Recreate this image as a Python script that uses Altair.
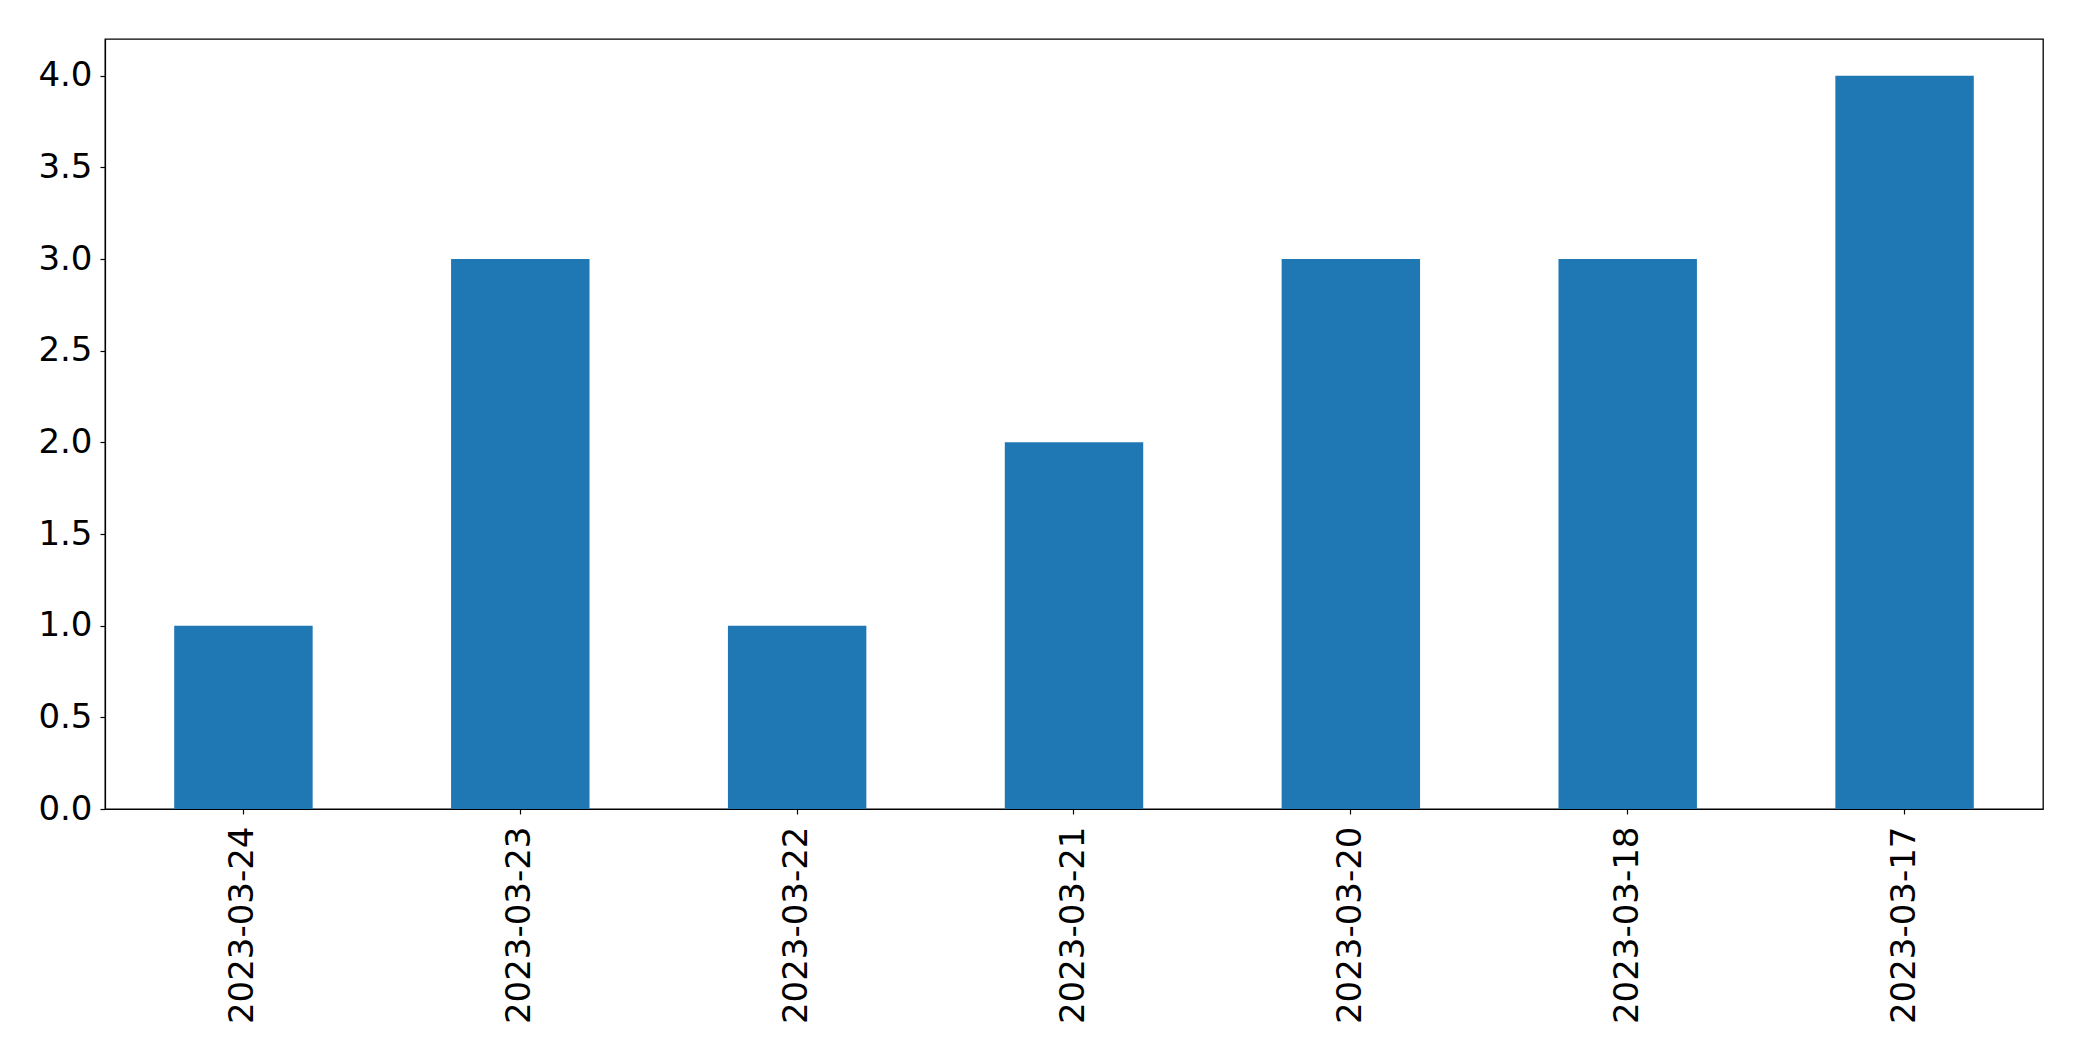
import altair as alt
import pandas as pd

dates = ["2023-03-24", "2023-03-23", "2023-03-22", "2023-03-21", "2023-03-20", "2023-03-18", "2023-03-17"]
counts = [1, 3, 1, 2, 3, 3, 4]
y_ticks = [0, 0.5, 1.0, 1.5, 2.0, 2.5, 3.0, 3.5, 4.0]

df = pd.DataFrame({"date": dates, "count": counts})

chart = (
    alt.Chart(df)
    .mark_bar(color="#1f77b4")
    .encode(
        x=alt.X(
            "date:N",
            sort=None,
            title=None,
            scale=alt.Scale(paddingInner=0.5, paddingOuter=0.25),
            axis=alt.Axis(
                labelAngle=-90,
                labelFontSize=34,
                labelFont="DejaVu Sans",
                labelColor="black",
                tickColor="black",
                tickSize=5,
                tickWidth=1.2,
                labelPadding=12,
                domainColor="black",
                domainWidth=1.2,
                labelLimit=400,
            ),
        ),
        y=alt.Y(
            "count:Q",
            title=None,
            scale=alt.Scale(domain=[0, 4.2], nice=False, zero=True),
            axis=alt.Axis(
                values=y_ticks,
                format=".1f",
                labelFontSize=34,
                labelFont="DejaVu Sans",
                labelColor="black",
                tickColor="black",
                tickSize=5,
                tickWidth=1.2,
                labelPadding=8,
                domainColor="black",
                domainWidth=1.2,
                grid=False,
            ),
        ),
    )
    .properties(
        width=1938,
        height=770,
        autosize=alt.AutoSizeParams(type="none"),
        padding={"left": 97, "top": 31, "right": 30, "bottom": 230},
        background="white",
    )
    .configure_view(stroke="black", strokeWidth=1.3)
)

chart.save("out.html", embed_options={"renderer": "svg", "actions": False})
